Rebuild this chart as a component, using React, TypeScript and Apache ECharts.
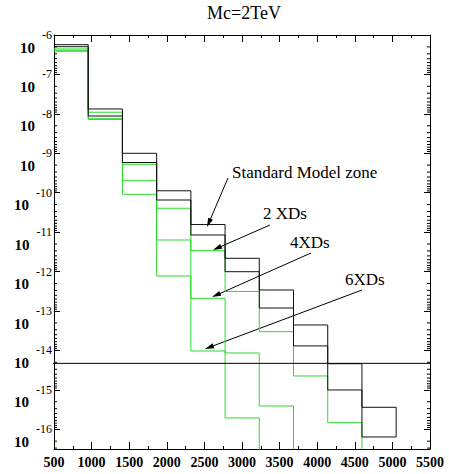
import React, { useEffect, useRef } from "react";
import * as echarts from "echarts";

// ---- data ----
const binEdges = [500, 955, 1410, 1865, 2320, 2775, 3230, 3685, 4140, 4595, 5050];
const smUpper = [5.68e-7, 1.33e-8, 1.0e-9, 1.12e-10, 1.56e-11, 2.17e-12, 3.41e-13, 4.42e-14, 4.6e-15, 3.61e-16];
const smLower = [5.05e-7, 8.83e-9, 5.83e-10, 6.53e-11, 8.47e-12, 9.93e-13, 1.19e-13, 1.3e-14, 9.93e-16, 6.38e-17];
const xd2 = [4.42e-7, 1.1e-8, 5.26e-10, 4.03e-11, 3.39e-12, 3.13e-13, 2.99e-14, 2.25e-15, 1.47e-16, 1.0e-17];
const xd4 = [4.09e-7, 7.71e-9, 2.02e-10, 6.32e-12, 2.1e-13, 8.61e-15, 3.9e-16, 1.0e-17, null, null];
const xd6 = [3.86e-7, 7.19e-9, 9.12e-11, 7.73e-13, 9.68e-15, 1.94e-16, 1.0e-17, null, null, null];
const refLineValue = 4.7e-15;
const refLineXRange = [220, 5760];
const xTickMin = 500;
const xTickMax = 5500;
const xTickStep = 500;
const yExpMin = -16.5;
const yExpMax = -6;
const majorExponents = [-6, -7, -8, -9, -10, -11, -12, -13, -14, -15, -16];
const minorMultipliers = [2, 3, 4, 5, 6, 7, 8, 9];
// arrows: [x1, y1, x2, y2]
const arrows = [
  [2814, 2.36e-10, 2535, 1.35e-11],
  [3372, 1.52e-11, 2614, 3.52e-12],
  [3918, 2.96e-12, 2601, 2.26e-13],
  [4596, 3.41e-13, 2508, 1.09e-14],
];
const title = "Mc=2TeV";
const annotations = ["Standard Model zone", "2 XDs", "4XDs", "6XDs"];

const SERIF = "Liberation Serif";
const BLACK = "#111";
const GREEN = "#2add2a";

function stepPoints(vals: (number | null)[], endTo?: number) {
  const pts: number[][] = [];
  for (let i = 0; i < vals.length; i++) {
    const v = vals[i];
    if (v == null) break;
    const y = Math.log10(v);
    pts.push([binEdges[i], y], [binEdges[i + 1], y]);
  }
  if (endTo != null) pts.push([binEdges[binEdges.length - 1], Math.log10(endTo)]);
  return pts;
}

const isInt = (v: number) => Math.abs(v - Math.round(v)) < 1e-6;

function histSeries(name: string, vals: (number | null)[], color: string, endTo?: number) {
  return {
    name,
    type: "line",
    data: stepPoints(vals, endTo),
    showSymbol: false,
    symbol: "none",
    clip: true,
    lineStyle: { color, width: 1 },
    silent: true,
    z: color === GREEN ? 2 : 3,
  };
}

const minorTickValues = majorExponents
  .flatMap((n) => minorMultipliers.map((k) => n - Math.log10(k)))
  .filter((v) => v >= yExpMin);

export default function App() {
  const ref = useRef<HTMLDivElement>(null);
  useEffect(() => {
    const chart = echarts.init(ref.current!, null, { renderer: "svg" });
    const xAxisBase = {
      type: "value",
      min: xTickMin,
      max: xTickMax,
      interval: xTickStep,
      axisLine: { show: true, onZero: false, lineStyle: { color: "#000", width: 1 } },
      axisTick: { show: true, inside: true, length: 7, lineStyle: { color: "#000" } },
      minorTick: { show: true, splitNumber: 2, length: 3, lineStyle: { color: "#000" } },
      splitLine: { show: false },
      minorSplitLine: { show: false },
    };
    const yAxisBase = {
      type: "value",
      min: yExpMin,
      max: yExpMax,
      splitNumber: 10,
      splitLine: { show: false },
    };
    const option: any = {
      animation: false,
      backgroundColor: "#fff",
      grid: { left: 54, top: 35, right: 19, bottom: 25 },
      xAxis: [
        {
          ...xAxisBase,
          position: "bottom",
          axisLabel: {
            fontFamily: SERIF,
            fontSize: 14,
            fontWeight: "bold",
            color: "#000",
            margin: 6,
            formatter: (v: number) => String(v),
          },
        },
        { ...xAxisBase, position: "top", axisLabel: { show: false } },
      ],
      yAxis: [
        {
          ...yAxisBase,
          position: "left",
          axisLine: { show: true, onZero: false, lineStyle: { color: "#000", width: 1 } },
          axisTick: { show: true, inside: true, length: 6, lineStyle: { color: "#000" } },
          axisLabel: {
            fontFamily: SERIF,
            fontSize: 12,
            color: "#000",
            margin: 2,
            formatter: (v: number) => (isInt(v) ? String(Math.round(v)) : ""),
          },
        },
        {
          ...yAxisBase,
          position: "left",
          axisLine: { show: false },
          axisTick: { show: false },
          axisLabel: {
            margin: 2,
            verticalAlign: "top",
            padding: [5, 0, 0, 0],
            formatter: (v: number) => (isInt(v) ? `{b|10}{g|${Math.round(v)}}` : ""),
            rich: {
              b: { fontFamily: SERIF, fontSize: 15, fontWeight: "bold", color: "#000", padding: [0, 7, 0, 0] },
              g: { fontFamily: SERIF, fontSize: 12, color: "rgba(0,0,0,0)" },
            },
          },
        },
        {
          ...yAxisBase,
          position: "right",
          axisLine: { show: true, onZero: false, lineStyle: { color: "#000", width: 1 } },
          axisTick: { show: true, inside: true, length: 6, lineStyle: { color: "#000" } },
          axisLabel: { show: false },
        },
      ],
      graphic: [
        { type: "text", x: 244, y: 13, style: { text: title, fontFamily: SERIF, fontSize: 18, fill: "#000", align: "center", verticalAlign: "middle" } },
        { type: "text", x: 232, y: 172, style: { text: annotations[0], fontFamily: SERIF, fontSize: 17, fill: "#000", align: "left", verticalAlign: "middle" } },
        { type: "text", x: 263, y: 213, style: { text: annotations[1], fontFamily: SERIF, fontSize: 17, fill: "#000", align: "left", verticalAlign: "middle" } },
        { type: "text", x: 290, y: 242, style: { text: annotations[2], fontFamily: SERIF, fontSize: 17, fill: "#000", align: "left", verticalAlign: "middle" } },
        { type: "text", x: 345, y: 279, style: { text: annotations[3], fontFamily: SERIF, fontSize: 17, fill: "#000", align: "left", verticalAlign: "middle" } },
      ],
      series: [
        histSeries("6XDs", xd6, GREEN),
        histSeries("4XDs", xd4, GREEN),
        histSeries("2 XDs", xd2, GREEN),
        histSeries("SM lower", smLower, BLACK),
        histSeries("SM upper", smUpper, BLACK, smLower[smLower.length - 1]),
        {
          name: "ref",
          type: "line",
          data: refLineXRange.map((x) => [x, Math.log10(refLineValue)]),
          showSymbol: false,
          symbol: "none",
          clip: false,
          silent: true,
          lineStyle: { color: "#000", width: 1 },
          z: 4,
        },
        {
          name: "minorTicks",
          type: "custom",
          coordinateSystem: "cartesian2d",
          silent: true,
          clip: false,
          data: minorTickValues.map((v) => [xTickMin, v]),
          renderItem: (_p: any, api: any) => {
            const y = api.value(1);
            const pl = api.coord([xTickMin, y]);
            const pr = api.coord([xTickMax, y]);
            const len = 3;
            return {
              type: "group",
              children: [
                { type: "line", shape: { x1: pl[0], y1: pl[1], x2: pl[0] + len, y2: pl[1] }, style: { stroke: "#000", lineWidth: 1 } },
                { type: "line", shape: { x1: pr[0] - len, y1: pr[1], x2: pr[0], y2: pr[1] }, style: { stroke: "#000", lineWidth: 1 } },
              ],
            };
          },
        },
        {
          name: "arrows",
          type: "custom",
          coordinateSystem: "cartesian2d",
          silent: true,
          clip: false,
          data: arrows.map((a) => [a[0], Math.log10(a[1]), a[2], Math.log10(a[3])]),
          encode: { x: [0, 2], y: [1, 3] },
          renderItem: (_p: any, api: any) => {
            const a = api.coord([api.value(0), api.value(1)]);
            const b = api.coord([api.value(2), api.value(3)]);
            const dx = b[0] - a[0];
            const dy = b[1] - a[1];
            const l = Math.hypot(dx, dy);
            const ux = dx / l;
            const uy = dy / l;
            const hl = 9;
            const hw = 2.6;
            const bx = b[0] - ux * hl;
            const by = b[1] - uy * hl;
            return {
              type: "group",
              children: [
                { type: "line", shape: { x1: a[0], y1: a[1], x2: bx + ux * 2, y2: by + uy * 2 }, style: { stroke: "#000", lineWidth: 1 } },
                {
                  type: "polygon",
                  shape: { points: [[b[0], b[1]], [bx - uy * hw, by + ux * hw], [bx + uy * hw, by - ux * hw]] },
                  style: { fill: "#000" },
                },
              ],
            };
          },
        },
      ],
    };
    chart.setOption(option);
    return () => chart.dispose();
  }, []);
  return (
    <div
      ref={ref}
      style={{ position: "fixed", left: 0, top: 0, width: 449, height: 474, background: "#fff" }}
    />
  );
}
